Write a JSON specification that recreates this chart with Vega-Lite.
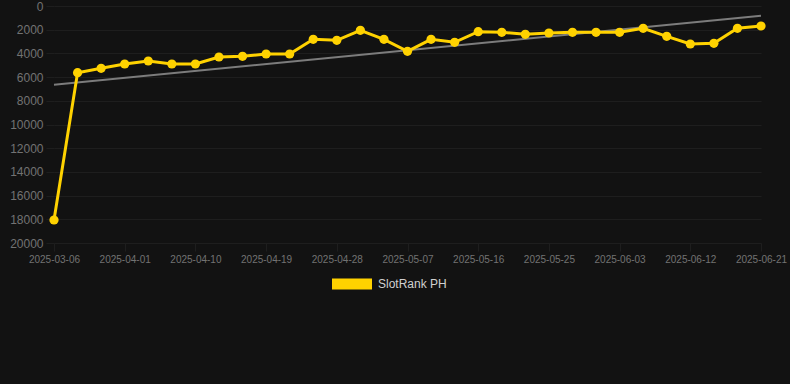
{
  "$schema": "https://vega.github.io/schema/vega-lite/v6.json",
  "width": 707,
  "height": 237,
  "autosize": {"type": "none"},
  "padding": {"left": 54, "top": 6, "right": 29, "bottom": 141},
  "background": "#121212",
  "config": {
    "view": {"stroke": null},
    "font": "Liberation Sans",
    "axis": {
      "gridColor": "#1e1e1e",
      "gridWidth": 1,
      "tickColor": "#1e1e1e",
      "domain": false,
      "labelColor": "#727272",
      "labelFont": "Liberation Sans",
      "labelOverlap": false
    }
  },
  "datasets": {
    "rank": [
      {"date": "2025-03-06", "rank": 18060, "series": "SlotRank PH"},
      {"date": "2025-03-26", "rank": 5630, "series": "SlotRank PH"},
      {"date": "2025-03-29", "rank": 5257, "series": "SlotRank PH"},
      {"date": "2025-04-01", "rank": 4895, "series": "SlotRank PH"},
      {"date": "2025-04-04", "rank": 4641, "series": "SlotRank PH"},
      {"date": "2025-04-07", "rank": 4895, "series": "SlotRank PH"},
      {"date": "2025-04-10", "rank": 4895, "series": "SlotRank PH"},
      {"date": "2025-04-13", "rank": 4304, "series": "SlotRank PH"},
      {"date": "2025-04-16", "rank": 4245, "series": "SlotRank PH"},
      {"date": "2025-04-19", "rank": 4051, "series": "SlotRank PH"},
      {"date": "2025-04-22", "rank": 4051, "series": "SlotRank PH"},
      {"date": "2025-04-25", "rank": 2810, "series": "SlotRank PH"},
      {"date": "2025-04-28", "rank": 2894, "series": "SlotRank PH"},
      {"date": "2025-05-01", "rank": 2050, "series": "SlotRank PH"},
      {"date": "2025-05-04", "rank": 2810, "series": "SlotRank PH"},
      {"date": "2025-05-07", "rank": 3823, "series": "SlotRank PH"},
      {"date": "2025-05-10", "rank": 2810, "series": "SlotRank PH"},
      {"date": "2025-05-13", "rank": 3063, "series": "SlotRank PH"},
      {"date": "2025-05-16", "rank": 2169, "series": "SlotRank PH"},
      {"date": "2025-05-19", "rank": 2219, "series": "SlotRank PH"},
      {"date": "2025-05-22", "rank": 2388, "series": "SlotRank PH"},
      {"date": "2025-05-25", "rank": 2278, "series": "SlotRank PH"},
      {"date": "2025-05-28", "rank": 2219, "series": "SlotRank PH"},
      {"date": "2025-05-31", "rank": 2219, "series": "SlotRank PH"},
      {"date": "2025-06-03", "rank": 2219, "series": "SlotRank PH"},
      {"date": "2025-06-06", "rank": 1882, "series": "SlotRank PH"},
      {"date": "2025-06-09", "rank": 2557, "series": "SlotRank PH"},
      {"date": "2025-06-12", "rank": 3207, "series": "SlotRank PH"},
      {"date": "2025-06-15", "rank": 3148, "series": "SlotRank PH"},
      {"date": "2025-06-18", "rank": 1882, "series": "SlotRank PH"},
      {"date": "2025-06-21", "rank": 1688, "series": "SlotRank PH"}
    ],
    "trend": [
      {"date": "2025-03-06", "trend": 6641},
      {"date": "2025-06-21", "trend": 819}
    ]
  },
  "encoding": {
    "x": {
      "field": "date",
      "type": "ordinal",
      "scale": {"type": "point", "padding": 0},
      "axis": {
        "title": null,
        "labelAngle": 0,
        "labelFontSize": 10,
        "tickSize": 8,
        "labelPadding": 3,
        "labelOverlap": false,
        "values": ["2025-03-06", "2025-04-01", "2025-04-10", "2025-04-19", "2025-04-28", "2025-05-07", "2025-05-16", "2025-05-25", "2025-06-03", "2025-06-12", "2025-06-21"]
      }
    }
  },
  "layer": [
    {
      "data": {"name": "trend"},
      "mark": {"type": "line", "color": "#7c7c7c", "strokeWidth": 2},
      "encoding": {
        "y": {
          "field": "trend",
          "type": "quantitative",
          "scale": {"domain": [0, 20000], "reverse": true, "nice": false, "zero": true},
          "axis": {
            "title": null,
            "values": [0, 2000, 4000, 6000, 8000, 10000, 12000, 14000, 16000, 18000, 20000],
            "format": "d",
            "labelFontSize": 12,
            "tickSize": 8,
            "labelPadding": 3,
            "labelOverlap": false,
            "labelBound": false,
            "labelFlush": false
          }
        }
      }
    },
    {
      "data": {"name": "rank"},
      "mark": {"type": "line", "strokeWidth": 3, "point": {"filled": true, "size": 85, "opacity": 1}},
      "encoding": {
        "y": {
          "field": "rank",
          "type": "quantitative",
          "scale": {"domain": [0, 20000], "reverse": true, "nice": false, "zero": true},
          "axis": {
            "title": null,
            "values": [0, 2000, 4000, 6000, 8000, 10000, 12000, 14000, 16000, 18000, 20000],
            "format": "d",
            "labelFontSize": 12,
            "tickSize": 8,
            "labelPadding": 3,
            "labelOverlap": false,
            "labelBound": false,
            "labelFlush": false
          }
        },
        "color": {
          "field": "series",
          "type": "nominal",
          "scale": {"range": ["#FFD200"]},
          "legend": {
            "title": null,
            "orient": "none",
            "legendX": 278,
            "legendY": 258,
            "padding": 0,
            "symbolType": "M-1,-0.275H1V0.275H-1Z",
            "symbolSize": 1600,
            "symbolStrokeWidth": 0,
            "symbolFillColor": "#FFD200",
            "symbolOpacity": 1,
            "labelColor": "#d0d0d0",
            "labelFontSize": 12,
            "labelFont": "Liberation Sans",
            "labelOffset": 6
          }
        }
      }
    }
  ]
}
